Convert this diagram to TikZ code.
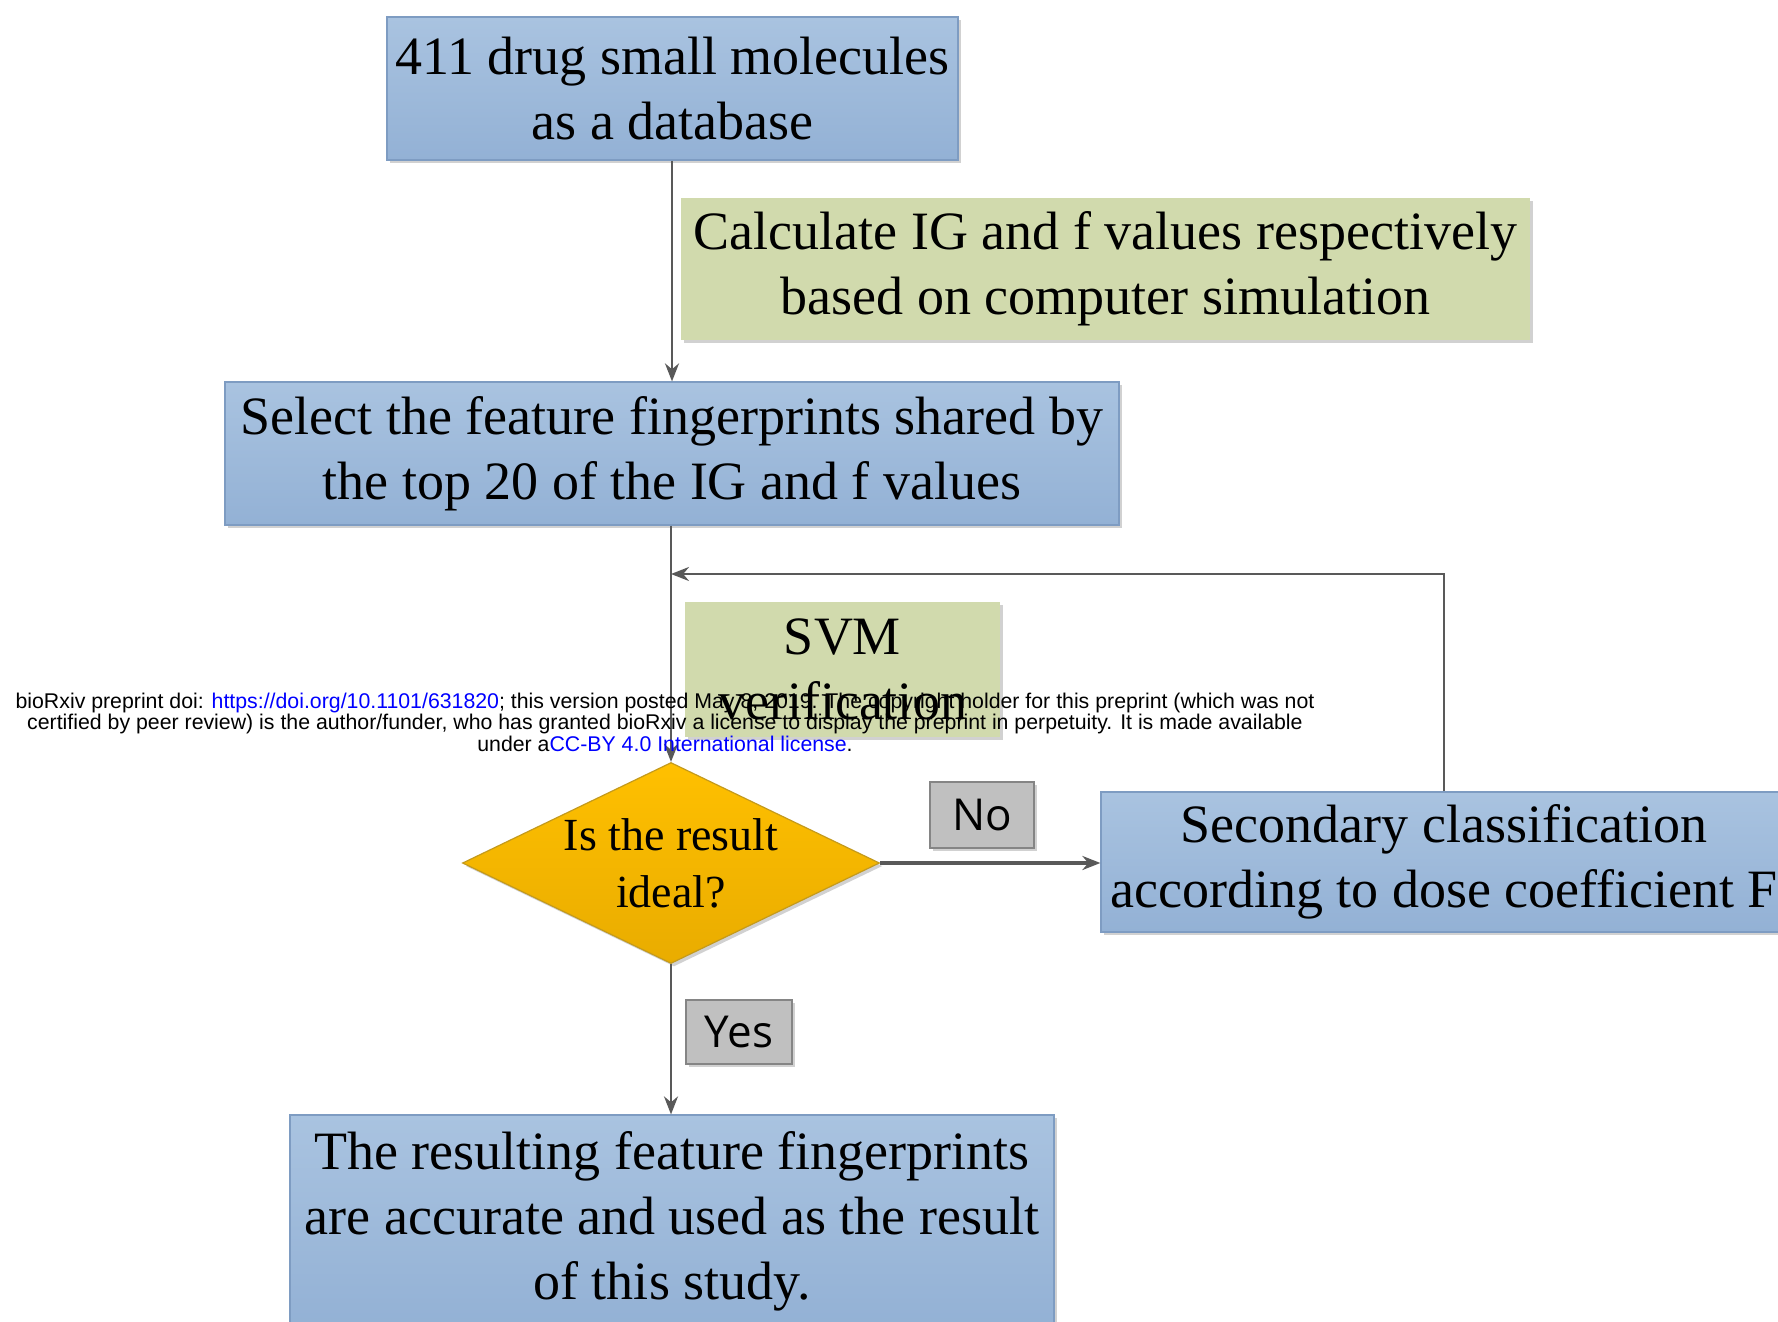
\documentclass[tikz,border=0pt]{standalone}
\usepackage{fontspec}
\setmainfont{Liberation Serif}
\newfontfamily\wmfont{Liberation Sans}
\newfontfamily\lblfont{Open Sans}
\usetikzlibrary{shapes.geometric,arrows.meta,shadows}
\definecolor{boxtop}{HTML}{A9C3E0}
\definecolor{boxbot}{HTML}{93B1D5}
\definecolor{boxedge}{HTML}{7E9CC2}
\definecolor{greenfill}{HTML}{D1DAAD}
\definecolor{grayfill}{HTML}{C0C0C0}
\definecolor{grayedge}{HTML}{858585}
\definecolor{goldtop}{HTML}{FFC000}
\definecolor{goldbot}{HTML}{E9AC00}
\definecolor{goldedge}{HTML}{C49A1C}
\definecolor{lineclr}{HTML}{595959}
\definecolor{linkblue}{RGB}{0,0,255}
\tikzset{
  mainfont/.style={font=\fontsize{27}{32.5}\selectfont},
  shad/.style={drop shadow={shadow xshift=1.5pt,shadow yshift=-1.5pt,opacity=0.18,fill=black}},
  bluebox/.style={mainfont,shad,draw=boxedge,line width=0.6pt,top color=boxtop,bottom color=boxbot,align=center,inner sep=0pt},
  greenbox/.style={mainfont,shad,fill=greenfill,align=center,inner sep=0pt},
  graylbl/.style={shad,draw=grayedge,line width=0.6pt,fill=grayfill,inner sep=0pt,font=\lblfont\fontsize{22}{26}\selectfont},
  decision/.style={shape=diamond,shad,draw=goldedge,line width=0.6pt,top color=goldtop,bottom color=goldbot,inner sep=0pt},
  arrowline/.style={draw=lineclr,line width=1.2pt,-{Stealth[length=9pt,width=7pt]}},
}
\begin{document}
\begin{tikzpicture}[x=0.5pt,y=-0.5pt]
\useasboundingbox (0,0) rectangle (1778,1322);
\clip (0,0) rectangle (1778,1322);
\fill[white] (0,0) rectangle (1778,1322);

\node[bluebox,minimum width=285.5pt,minimum height=71.5pt] (db) at (672.5,88.5) {411 drug small molecules\\as a database};
\node[greenbox,minimum width=424.5pt,minimum height=71pt] (calc) at (1105.5,269) {Calculate IG and f values respectively\\based on computer simulation};
\node[bluebox,minimum width=447pt,minimum height=71.5pt] (sel) at (672,453.5) {Select the feature fingerprints shared by\\the top 20 of the IG and f values};
\node[greenbox,minimum width=157.5pt,minimum height=67.5pt] (svm) at (842.5,669.5) {SVM\\verification};
\node[decision,minimum width=208.5pt,minimum height=100.5pt] (q) at (671,863) {};
\node[font=\fontsize{23}{28.5}\selectfont,align=center] (qt) at (q.center) {Is the result\\ideal?};
\node[bluebox,minimum width=343pt,minimum height=70pt] (sec) at (1444,862) {Secondary classification\\according to dose coefficient F};
\node[bluebox,minimum width=382pt,minimum height=106pt] (res) at (672,1221) {The resulting feature fingerprints\\are accurate and used as the result\\of this study.};
\node[graylbl,minimum width=52pt,minimum height=33pt] (no) at (982,815) {No};
\node[graylbl,minimum width=53pt,minimum height=32pt] (yes) at (739,1032) {Yes};

\coordinate (join) at (671,574);

\draw[arrowline] (db.south -| sel.north) -- (sel.north);
\draw[arrowline] (sel.south -| q.north) -- (q.north);
\draw[arrowline] (sec.north) |- (join);
\draw[arrowline,line width=1.7pt] (q.east) -- (q.east -| sec.west);
\draw[arrowline] (q.south) -- (q.south |- res.north);

\node[font=\wmfont\fontsize{10.65}{10.75}\selectfont,align=center,inner sep=0pt] (wm) at (665,722) {bioRxiv preprint doi: \textcolor{linkblue}{https://doi.org/10.1101/631820}; this version posted May 8, 2019. The copyright holder for this preprint (which was not\\certified by peer review) is the author/funder, who has granted bioRxiv a license to display the preprint in perpetuity. It is made available\\under a\textcolor{linkblue}{CC-BY 4.0 International license}.};
\end{tikzpicture}
\end{document}
